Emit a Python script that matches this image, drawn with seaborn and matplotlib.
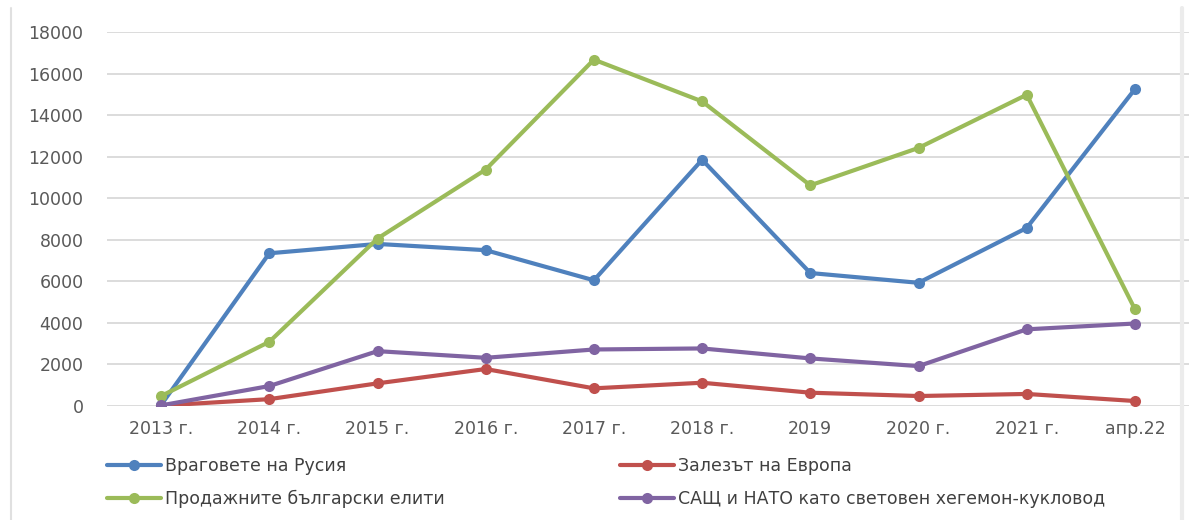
import pandas as pd
import numpy as np
import matplotlib
matplotlib.use("Agg")
import matplotlib.pyplot as plt
import seaborn as sns
from matplotlib.lines import Line2D

periods = ["2013 г.", "2014 г.", "2015 г.", "2016 г.", "2017 г.",
           "2018 г.", "2019", "2020 г.", "2021 г.", "апр.22"]

enemies_russia = [50, 7350, 7800, 7500, 6050, 11850, 6400, 5930, 8570, 15250]
europe_decline = [20, 330, 1090, 1780, 850, 1120, 640, 480, 580, 240]
corrupt_elites = [480, 3090, 8060, 11380, 16670, 14660, 10620, 12420, 14980, 4660]
usa_nato = [30, 960, 2640, 2320, 2720, 2770, 2290, 1920, 3690, 3970]

series_names = ["Враговете на Русия", "Залезът на Европа",
                "Продажните български елити",
                "САЩ и НАТО като световен хегемон-кукловод"]
series_values = [enemies_russia, europe_decline, corrupt_elites, usa_nato]
colors = ["#4F81BD", "#C0504D", "#9BBB59", "#8064A2"]

rows = []
for name, vals in zip(series_names, series_values):
    for i, v in enumerate(vals):
        rows.append({"pos": i, "value": v, "series": name})
df = pd.DataFrame(rows)

sns.set_style("white")
plt.rcParams["font.family"] = ["DejaVu Sans"]

fig = plt.figure(figsize=(11.9, 5.2), dpi=100)
ax = fig.add_axes([107 / 1190, 114 / 520, 1082 / 1190, 374 / 520])

sns.lineplot(
    data=df,
    x="pos",
    y="value",
    hue="series",
    hue_order=series_names,
    palette=colors,
    marker="o",
    markersize=8,
    markeredgewidth=0,
    linewidth=3,
    sort=False,
    legend=False,
    ax=ax
)

ax.set_xlim(-0.5, len(periods) - 0.5)
ax.set_ylim(0, 18000)
ax.set_yticks(np.arange(0, 18001, 2000))
ax.set_xticks(range(len(periods)))
ax.set_xticklabels(periods)
ax.set_xlabel("")
ax.set_ylabel("")
ax.grid(axis="y", color="#d9d9d9", linewidth=1.3)
ax.set_axisbelow(True)
for s in ax.spines.values():
    s.set_visible(False)
ax.tick_params(axis="y", length=0, pad=17, labelsize=12.5, labelcolor="#595959")
ax.tick_params(axis="x", length=0, pad=10, labelsize=12.5, labelcolor="#595959")

# legend, Excel style: two columns laid out row by row
handles = [Line2D([], [], color=c, linewidth=3, marker="o", markersize=8,
                  markeredgewidth=0) for c in colors]
leg_kw = dict(frameon=False, fontsize=12.5, handlelength=3.1, handletextpad=0.25,
              labelspacing=0.85, borderpad=0, borderaxespad=0, loc="upper left",
              labelcolor="#404040")
fig.legend([handles[0], handles[2]], [series_names[0], series_names[2]],
           bbox_to_anchor=(107 / 1190, 1 - 457 / 520), **leg_kw)
fig.legend([handles[1], handles[3]], [series_names[1], series_names[3]],
           bbox_to_anchor=(620 / 1190, 1 - 457 / 520), **leg_kw)

# faint side edges of the chart frame
fig.add_artist(Line2D([11 / 1190, 11 / 1190], [0, 1 - 8 / 520],
                      transform=fig.transFigure, color="#e0e0e0", linewidth=1.5))
fig.add_artist(Line2D([1182 / 1190, 1182 / 1190], [0, 1 - 8 / 520],
                      transform=fig.transFigure, color="#ececec", linewidth=3))

plt.savefig("out.png", dpi=100)
